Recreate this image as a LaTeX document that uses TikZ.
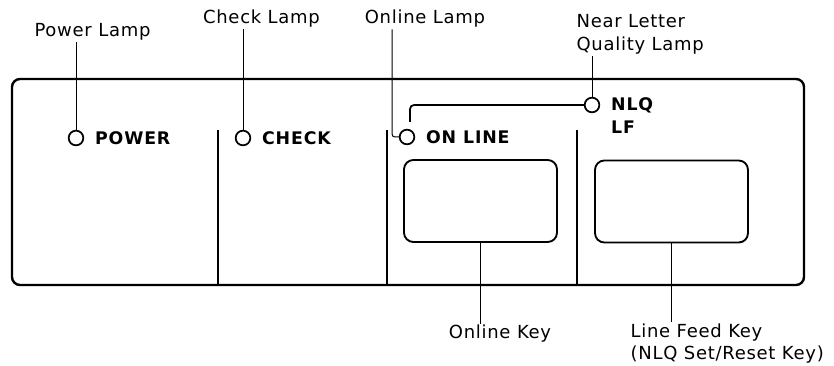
\documentclass[tikz,border=0pt]{standalone}
\usepackage{fontspec}
\setmainfont{DejaVu Sans}
\newfontfamily\panelfont[LetterSpace=5]{DejaVu Sans}
\newfontfamily\calloutfont[LetterSpace=4]{DejaVu Sans}
\usetikzlibrary{positioning}

\tikzset{
  lamp/.style={circle, draw, line width=1.3pt, minimum size=11pt, inner sep=0pt},
  keycap/.style={draw, rounded corners=7pt, line width=1.4pt, minimum width=114.75pt, minimum height=61.5pt},
  calloutlbl/.style={font=\calloutfont\fontsize{13.5}{17}\selectfont, inner sep=1pt},
  panellbl/.style={font=\panelfont\bfseries\fontsize{13}{15}\selectfont, inner sep=0pt, anchor=west},
  leader/.style={line width=0.75pt},
}

\begin{document}
\begin{tikzpicture}[x=0.75pt,y=-0.75pt]
  \path[use as bounding box] (0,0) rectangle (834,366);
  % front panel and dividers
  \draw[line width=1.8pt, rounded corners=6pt] (12,79) rectangle (804,285);
  \foreach \x in {218,387,577}
    \draw[line width=1.8pt] (\x,130) -- (\x,285);

  % lamps
  \node[lamp] (pwr) at (76,138) {};
  \node[lamp] (chk) at (243,138) {};
  \node[lamp] (onl) at (407,137) {};
  \node[lamp] (nlq) at (592,105) {};
  \node[panellbl, right=8pt of pwr] (pwrtxt) {POWER};
  \node[panellbl, right=8pt of chk] (chktxt) {CHECK};
  \node[panellbl, right=8pt of onl] (onltxt) {ON LINE};
  \node[panellbl, right=8pt of nlq] (nlqtxt) {NLQ};
  \node[panellbl, below=6pt of nlqtxt.south west, anchor=north west] (lftxt) {LF};

  % keys
  \node[keycap] (onkey) at (480.5,201) {};
  \node[keycap] (lfkey) at (671.5,201.5) {};

  % NLQ lamp bracket
  \coordinate (brk) at (410,122);
  \draw[line width=1.3pt, rounded corners=3pt] (nlq.west) -| (brk);

  % callouts
  \node[calloutlbl] (pwrlbl) at (92.5,32) {Power Lamp};
  \node[calloutlbl] (chklbl) at (261.5,19) {Check Lamp};
  \node[calloutlbl] (onllbl) at (425,19) {Online Lamp};
  \node[calloutlbl, align=left, anchor=north west] (nlqlbl) at (575,13) {Near Letter\\Quality Lamp};
  \node[calloutlbl] (onklbl) at (500,334) {Online Key};
  \node[calloutlbl, align=left, anchor=north west] (lfklbl) at (629,322) {Line Feed Key\\(NLQ Set/Reset Key)};

  \draw[leader] (pwr) -- (pwr |- pwrlbl.south);
  \draw[leader] (chk) -- (chk |- chklbl.south);
  \coordinate (onbend) at ([xshift=-5pt]onl.west);
  \draw[leader, rounded corners=2pt] (onl.west) -- (onbend) -- (onbend |- onllbl.south);
  \draw[leader] (nlq) -- (nlq |- nlqlbl.south);
  \draw[leader] (onkey.south) -- (onkey.south |- onklbl.north);
  \draw[leader] (lfkey.south) -- (lfkey.south |- lfklbl.north);
\end{tikzpicture}
\end{document}
